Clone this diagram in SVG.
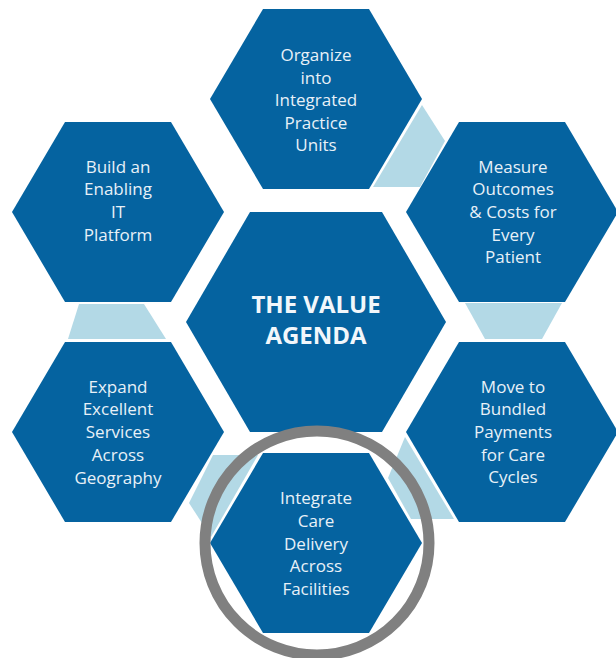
<svg xmlns="http://www.w3.org/2000/svg" xmlns:xlink="http://www.w3.org/1999/xlink" width="616" height="658" viewBox="0 0 616 658">
  <style>
    .hex { fill: #0563A0; }
    .conn { fill: #B3D9E6; }
    .lbl { font-family: "Open Sans", "Noto Sans", "Liberation Sans", sans-serif; font-size: 17px; fill: #E8F1F8; text-anchor: middle; }
    .title { font-family: "Open Sans", "Noto Sans", "Liberation Sans", sans-serif; font-size: 24px; font-weight: 700; fill: #F2F7FB; text-anchor: middle; }
    .ring { fill: none; stroke: #808080; stroke-width: 11; }
  </style>
  <defs>
    <polygon id="hexOuter" points="-106,0 -53,-90 53,-90 106,0 53,90 -53,90"/>
    <polygon id="hexCenter" points="-130,0 -66,-110 66,-110 130,0 66,110 -66,110"/>
  </defs>
  <rect width="616" height="658" fill="#FFFFFF"/>

  <g id="connectors">
    <polygon class="conn" points="422,105 445,141 420,187 373,187"/>
    <polygon class="conn" points="465,303 562,303 542,339 485,339"/>
    <polygon class="conn" points="405,437 454,519 411,519 388,478"/>
    <polygon class="conn" points="213,455 258,455 211,537 189,503"/>
    <polygon class="conn" points="79,304 144,304 166,339 68,339"/>
  </g>

  <g id="node-center">
    <use href="#hexCenter" xlink:href="#hexCenter" class="hex" x="316" y="322"/>
    <text class="title"><tspan x="316" y="313">THE VALUE</tspan><tspan x="316" y="344">AGENDA</tspan></text>
  </g>

  <g id="node-organize">
    <use href="#hexOuter" xlink:href="#hexOuter" class="hex" x="316" y="99"/>
    <text class="lbl"><tspan x="316" y="61">Organize</tspan><tspan x="316" y="84">into</tspan><tspan x="316" y="106">Integrated</tspan><tspan x="316" y="129">Practice</tspan><tspan x="316" y="151">Units</tspan></text>
  </g>

  <g id="node-measure">
    <use href="#hexOuter" xlink:href="#hexOuter" class="hex" x="512" y="212"/>
    <text class="lbl"><tspan x="513" y="173">Measure</tspan><tspan x="513" y="195">Outcomes</tspan><tspan x="513" y="218">&amp; Costs for</tspan><tspan x="513" y="241">Every</tspan><tspan x="513" y="263">Patient</tspan></text>
  </g>

  <g id="node-move">
    <use href="#hexOuter" xlink:href="#hexOuter" class="hex" x="512" y="432"/>
    <text class="lbl"><tspan x="513" y="393">Move to</tspan><tspan x="513" y="415">Bundled</tspan><tspan x="513" y="438">Payments</tspan><tspan x="513" y="461">for Care</tspan><tspan x="513" y="483">Cycles</tspan></text>
  </g>

  <g id="node-integrate">
    <use href="#hexOuter" xlink:href="#hexOuter" class="hex" x="316" y="543"/>
    <text class="lbl"><tspan x="316" y="504">Integrate</tspan><tspan x="316" y="527">Care</tspan><tspan x="316" y="550">Delivery</tspan><tspan x="316" y="572">Across</tspan><tspan x="316" y="595">Facilities</tspan></text>
  </g>

  <g id="node-expand">
    <use href="#hexOuter" xlink:href="#hexOuter" class="hex" x="118" y="432"/>
    <text class="lbl"><tspan x="118" y="393">Expand</tspan><tspan x="118" y="415">Excellent</tspan><tspan x="118" y="438">Services</tspan><tspan x="118" y="461">Across</tspan><tspan x="118" y="484">Geography</tspan></text>
  </g>

  <g id="node-build">
    <use href="#hexOuter" xlink:href="#hexOuter" class="hex" x="118" y="212"/>
    <text class="lbl"><tspan x="118" y="173">Build an</tspan><tspan x="118" y="195">Enabling</tspan><tspan x="118" y="218">IT</tspan><tspan x="118" y="241">Platform</tspan></text>
  </g>

  <g id="highlight">
    <circle class="ring" cx="317" cy="543" r="112"/>
  </g>
</svg>
